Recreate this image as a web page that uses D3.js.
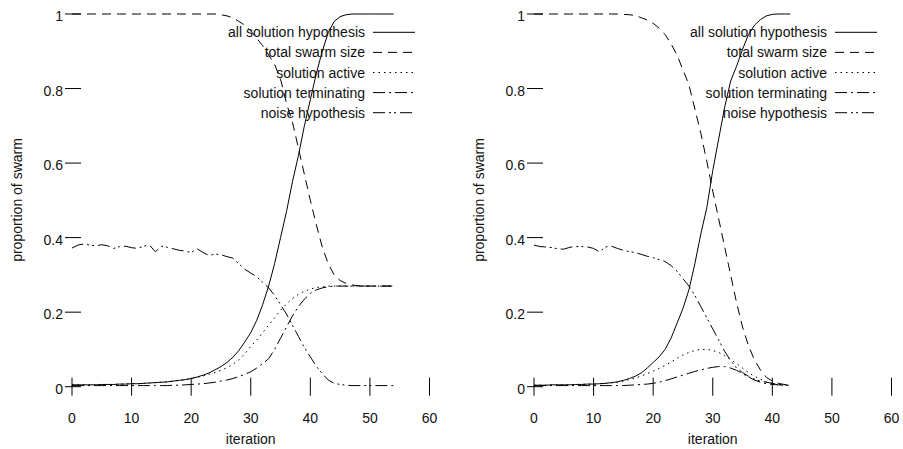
<!DOCTYPE html>
<html>
<head>
<meta charset="utf-8">
<script src="https://cdn.jsdelivr.net/npm/d3@7"></script>
<style>
  body { margin: 0; background: #fff; }
  text { font-family: "Liberation Sans", Arial, Helvetica, sans-serif; font-size: 14px; fill: #111; }
</style>
</head>
<body>
<div id="chart"></div>
<script>
// values, one entry per iteration (index = iteration)
const seriesNames = ["all solution hypothesis", "total swarm size", "solution active", "solution terminating", "noise hypothesis"];
const xTicks = [0, 10, 20, 30, 40, 50, 60];
const yTicks = [0, 0.2, 0.4, 0.6, 0.8, 1];
const yTickLabels = ["0", "0.2", "0.4", "0.6", "0.8", "1"];

const leftSolution = [.005,.005,.005,.005,.005,.006,.006,.006,.007,.007,
  .008,.008,.009,.010,.011,.012,.013,.015,.017,.019,
  .022,.026,.031,.037,.045,.054,.065,.079,.097,.12,
  .145,.178,.22,.27,.33,.40,.47,.55,.62,.70,
  .77,.84,.90,.95,.98,.993,.998,1,1,1,
  1,1,1,1,1];
const leftTotal = [1,1,1,1,1,1,1,1,1,1,
  1,1,1,1,1,1,1,1,1,1,
  1,1,1,1,1,.998,.995,.99,.98,.97,
  .955,.935,.915,.89,.865,.825,.76,.71,.64,.57,
  .50,.435,.375,.33,.30,.285,.277,.273,.271,.27,
  .27,.27,.27,.27,.27];
const leftActive = [.005,.005,.005,.005,.005,.006,.006,.006,.007,.007,
  .008,.008,.009,.010,.011,.012,.013,.015,.017,.019,
  .022,.025,.029,.033,.038,.044,.051,.06,.072,.088,
  .108,.125,.145,.165,.185,.205,.222,.237,.248,.256,
  .262,.266,.268,.27,.27,.27,.27,.27,.27,.27,
  .27,.27,.27,.27,.27];
const leftTerminating = [.003,.003,.003,.003,.003,.003,.003,.003,.003,.003,
  .003,.003,.003,.003,.003,.003,.003,.004,.004,.005,
  .006,.007,.008,.01,.012,.015,.018,.022,.027,.033,
  .04,.05,.062,.075,.10,.13,.16,.19,.215,.235,
  .25,.26,.265,.268,.27,.27,.27,.27,.27,.27,
  .27,.27,.27,.27,.27];
const leftNoise = [.372,.38,.383,.38,.378,.381,.378,.371,.376,.377,
  .373,.371,.377,.38,.362,.377,.374,.37,.366,.364,
  .36,.37,.36,.352,.356,.354,.349,.345,.33,.315,
  .305,.295,.28,.265,.245,.22,.195,.165,.135,.105,
  .08,.055,.035,.018,.009,.006,.004,.003,.003,.003,
  .003,.003,.003,.003,.003];

const rightSolution = [.004,.004,.004,.005,.005,.005,.005,.006,.006,.007,
  .007,.008,.009,.011,.013,.017,.022,.028,.037,.05,
  .065,.08,.10,.13,.17,.21,.26,.33,.41,.48,
  .58,.665,.75,.82,.86,.905,.945,.97,.985,.995,
  .999,1,1,1];
const rightTotal = [1,1,1,1,1,1,1,1,1,1,
  1,1,1,1,1,.999,.998,.996,.99,.984,
  .975,.962,.945,.92,.89,.85,.81,.745,.68,.605,
  .525,.45,.375,.30,.225,.16,.11,.072,.045,.025,
  .015,.009,.006,.005];
const rightActive = [.004,.004,.004,.005,.005,.005,.005,.006,.006,.007,
  .007,.008,.009,.01,.012,.015,.019,.023,.029,.035,
  .042,.049,.057,.066,.076,.085,.092,.097,.10,.10,
  .097,.092,.083,.073,.062,.05,.038,.028,.02,.013,
  .008,.005,.004,.004];
const rightTerminating = [.003,.003,.003,.003,.003,.003,.003,.003,.003,.003,
  .003,.003,.003,.003,.003,.003,.004,.005,.006,.007,
  .009,.012,.016,.021,.026,.031,.036,.041,.045,.049,
  .052,.054,.054,.05,.044,.035,.026,.018,.012,.008,
  .006,.005,.004,.004];
const rightNoise = [.38,.376,.375,.373,.37,.369,.374,.376,.376,.375,
  .371,.362,.375,.377,.371,.366,.362,.36,.355,.35,
  .346,.341,.336,.325,.31,.29,.27,.245,.215,.185,
  .155,.125,.095,.07,.05,.038,.028,.02,.015,.012,
  .009,.006,.005,.004];

const dashes = [null, "9,6", "1.5,4", "12,4,2,4", "12,4,2,3,2,4"];

const width = 903, height = 449;
const svg = d3.select("#chart").append("svg")
  .attr("width", width)
  .attr("height", height);

function drawPanel(x0, series) {
  const x = d3.scaleLinear().domain([0, 60]).range([x0, x0 + 357.5]);
  const y = d3.scaleLinear().domain([0, 1]).range([386.7, 14]);
  const g = svg.append("g");

  // y ticks sit on the x=0 line, crossing it
  g.selectAll("line.ytick").data(yTicks).join("line")
    .attr("class", "ytick")
    .attr("x1", x(0) - 7).attr("x2", x(0) + 9)
    .attr("y1", d => y(d)).attr("y2", d => y(d))
    .attr("stroke", "#000").attr("stroke-width", 1);
  g.selectAll("text.ylab").data(yTicks).join("text")
    .attr("class", "ylab")
    .attr("x", x(0) - 9)
    .attr("y", d => y(d) + 7)
    .attr("text-anchor", "end")
    .text((d, i) => yTickLabels[i]);

  // x ticks sit on the y=0 line
  g.selectAll("line.xtick").data(xTicks).join("line")
    .attr("class", "xtick")
    .attr("x1", d => x(d)).attr("x2", d => x(d))
    .attr("y1", y(0) - 9).attr("y2", y(0) + 9)
    .attr("stroke", "#000").attr("stroke-width", 1);
  g.selectAll("text.xlab").data(xTicks).join("text")
    .attr("class", "xlab")
    .attr("x", d => x(d))
    .attr("y", 423)
    .attr("text-anchor", "middle")
    .text(d => d);

  g.append("text")
    .attr("x", x(30)).attr("y", 444)
    .attr("text-anchor", "middle")
    .text("iteration");
  g.append("text")
    .attr("transform", `translate(${x0 - 50},200) rotate(-90)`)
    .attr("text-anchor", "middle")
    .text("proportion of swarm");

  const line = d3.line().x((d, i) => x(i)).y(d => y(d));
  g.selectAll("path.curve").data(series).join("path")
    .attr("class", "curve")
    .attr("d", d => line(d))
    .attr("fill", "none")
    .attr("stroke", "#000")
    .attr("stroke-width", 1)
    .attr("stroke-dasharray", (d, i) => dashes[i]);

  // key, top right, no box
  const key = g.selectAll("g.key").data(seriesNames).join("g")
    .attr("class", "key")
    .attr("transform", (d, i) => `translate(${x0 + 293},${32.3 + 20.1 * i})`);
  key.append("text")
    .attr("x", 0).attr("y", 5)
    .attr("text-anchor", "end")
    .text(d => d);
  key.append("line")
    .attr("x1", 8).attr("x2", 50)
    .attr("y1", 0).attr("y2", 0)
    .attr("stroke", "#000").attr("stroke-width", 1)
    .attr("stroke-dasharray", (d, i) => dashes[i]);
}

drawPanel(72, [leftSolution, leftTotal, leftActive, leftTerminating, leftNoise]);
drawPanel(534, [rightSolution, rightTotal, rightActive, rightTerminating, rightNoise]);
</script>
</body>
</html>
